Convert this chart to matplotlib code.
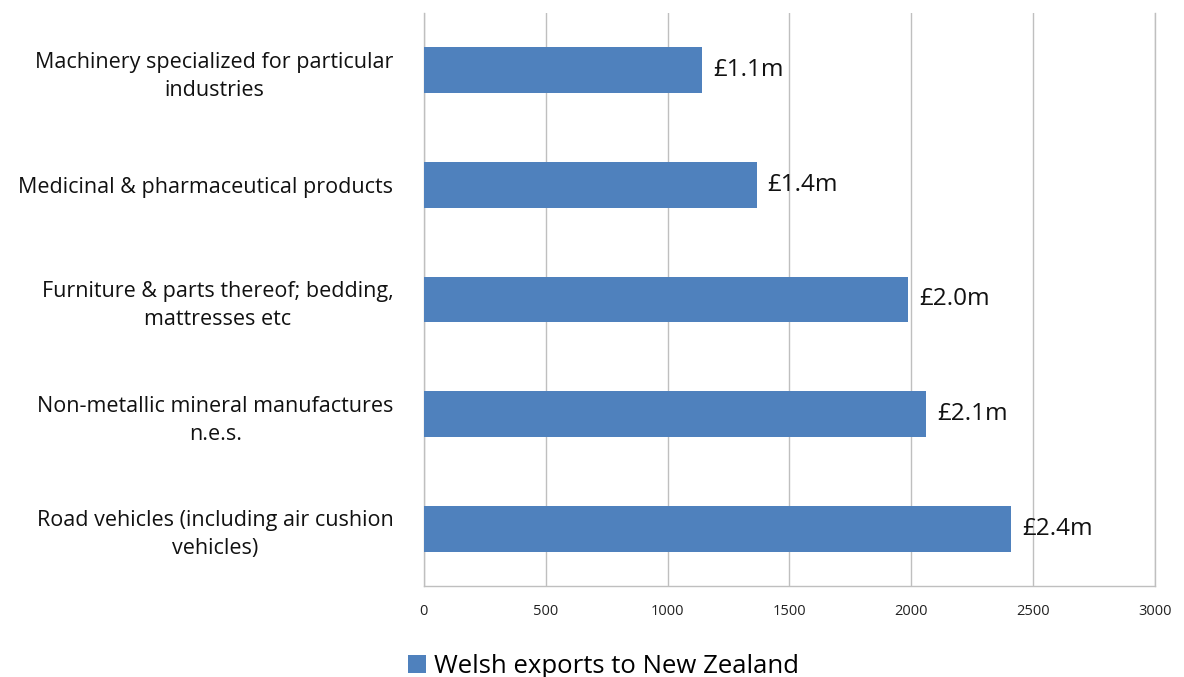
import matplotlib
matplotlib.use("Agg")
import matplotlib.pyplot as plt
from matplotlib.patches import Patch

categories = [
    "Machinery specialized for particular\nindustries",
    "Medicinal & pharmaceutical products",
    "Furniture & parts thereof; bedding,\nmattresses etc",
    "Non-metallic mineral manufactures\nn.e.s.",
    "Road vehicles (including air cushion\nvehicles)",
]
values = [1143, 1365, 1988, 2059, 2411]
labels = ["£1.1m", "£1.4m", "£2.0m", "£2.1m", "£2.4m"]
xticks = [0, 500, 1000, 1500, 2000, 2500, 3000]
series_name = "Welsh exports to New Zealand"

plt.rcParams['font.family'] = ['Open Sans', 'DejaVu Sans']
fig = plt.figure(figsize=(11.84, 6.77), dpi=100)
ax = fig.add_axes([0.358, 0.1344, 0.6175, 0.8466])

color = "#4F81BD"
ypos = list(range(len(categories)))
ax.barh(ypos, values, height=0.4, color=color, zorder=3)
ax.set_ylim(len(categories) - 0.5, -0.5)
ax.set_xlim(0, 3000)
ax.set_xticks(xticks)
ax.set_xticklabels([str(t) for t in xticks], fontsize=10.5, color="#222222")
ax.set_yticks(ypos)
ax.set_yticklabels(categories, fontsize=15.5, color="#111111",
                   multialignment="center", linespacing=1.45)
ax.tick_params(axis='y', length=0, pad=22)
ax.tick_params(axis='x', length=0, pad=13)
ax.grid(axis='x', color="#BFBFBF", linewidth=1, zorder=0)
ax.spines["top"].set_visible(False)
for s in ["left", "bottom", "right"]:
    ax.spines[s].set_color("#BFBFBF")
    ax.spines[s].set_linewidth(1)

for y, v, lab in zip(ypos, values, labels):
    ax.annotate(lab, (v, y), xytext=(8, 0), textcoords="offset points",
                va="center", ha="left", fontsize=17.5, color="#111111", zorder=4)

handles = [Patch(facecolor=color, label=series_name)]
fig.legend(handles=handles, loc="center", bbox_to_anchor=(0.51, 0.015),
           frameon=False, fontsize=18.5, handlelength=0.7, handleheight=0.7,
           handletextpad=0.3)

fig.savefig("out.png", dpi=100)
